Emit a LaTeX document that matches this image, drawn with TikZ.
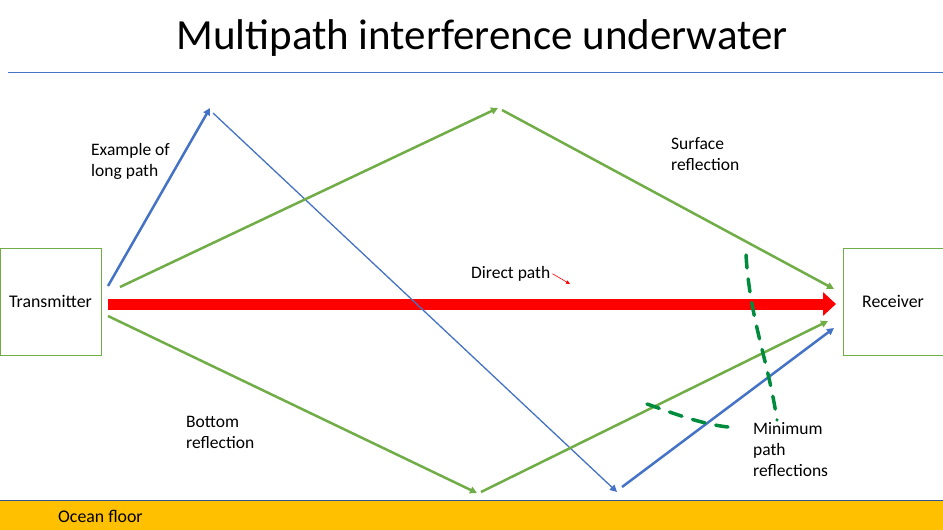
\documentclass[tikz,border=0pt]{standalone}
\usepackage{fontspec}
\setmainfont{Carlito}
\usetikzlibrary{arrows.meta}
\definecolor{cblue}{HTML}{4472C4}
\definecolor{cgreen}{HTML}{70AD47}
\definecolor{cred}{HTML}{FF0000}
\definecolor{corange}{HTML}{FFC000}
\definecolor{cdash}{RGB}{0,140,60}
\definecolor{cfloorline}{HTML}{2F5597}
\begin{document}
\begin{tikzpicture}[x=1pt,y=-1pt,
  devbox/.style={draw=cgreen, line width=1pt, fill=white, minimum width=101pt, minimum height=107pt, inner sep=0pt, font=\fontsize{17.8}{20}\selectfont},
  lbl/.style={font=\fontsize{17.5}{21}\selectfont, align=left, anchor=north west, inner sep=0pt},
  tip/.style={-{Triangle[length=7pt,width=7pt]}},
  greenray/.style={draw=cgreen, line width=2.5pt, tip},
  bluethick/.style={draw=cblue, line width=2.5pt, tip},
  bluethin/.style={draw=cblue, line width=1.3pt, tip},
  minpath/.style={draw=cdash, line width=3.5pt, dash pattern=on 13pt off 11pt, line cap=round}
  ]
\useasboundingbox (0,0) rectangle (943,530);

% title and rule
\node[font=\fontsize{43}{50}\selectfont, inner sep=0pt] (title) at (482,38) {Multipath interference underwater};
\coordinate (ruleL) at (8,72);
\coordinate (ruleR) at (943,72);
\draw[cblue, line width=1pt] (ruleL) -- (ruleR);

% ocean floor
\fill[corange] (0,500) rectangle (943,530);
\coordinate (floorL) at (0,500);
\coordinate (floorR) at (943,500);
\draw[cfloorline, line width=1pt] (floorL) -- (floorR);
\node[font=\fontsize{17.8}{20}\selectfont, anchor=west, inner sep=0pt] (floor) at (58,516) {Ocean floor};

% devices
\node[devbox] (tx) at (50.5,301.5) {Transmitter};
\node[devbox, minimum width=100pt] (rx) at (893,301.5) {Receiver};

% named points of the paths
\coordinate (bs) at (108,286);
\coordinate (bt1) at (210,108);
\coordinate (bs2) at (213,113);
\coordinate (bt2) at (617,492);
\coordinate (bs3) at (622,487);
\coordinate (bt3) at (834,328);

\coordinate (gs) at (120,287);
\coordinate (gt1) at (498,108);
\coordinate (gs2) at (502,110);
\coordinate (gt2) at (834,289);

\coordinate (hs) at (108,316);
\coordinate (ht1) at (477,493);
\coordinate (hs2) at (481,492);
\coordinate (ht2) at (828,321);

\coordinate (rs) at (108,304);
\coordinate (rt) at (836,304);

% direct path
\draw[cred, line width=11pt, -{Triangle[length=13pt,width=23pt]}] (rs) -- (rt);

% long path (blue)
\draw[bluethick] (bs) -- (bt1);
\draw[bluethin] (bs2) -- (bt2);
\draw[bluethick] (bs3) -- (bt3);

% surface reflection (green)
\draw[greenray] (gs) -- (gt1);
\draw[greenray] (gs2) -- (gt2);

% bottom reflection (green)
\draw[greenray] (hs) -- (ht1);
\draw[greenray] (hs2) -- (ht2);

% minimum path reflections (dashed curves)
\draw[minpath] (746,255) .. controls (750,320) and (768,360) .. (777,420);
\draw[minpath] (647,404) .. controls (670,412) and (700,424) .. (728,427);

% labels
\node[lbl] (lexample) at (91,143) {Example of\\long path};
\node[lbl] (lsurface) at (671,137) {Surface\\reflection};
\node[lbl] (lbottom) at (186,416) {Bottom\\reflection};
\node[lbl] (lminimum) at (753,422) {Minimum\\path\\reflections};
\node[lbl] (ldirect) at (471,266) {Direct path};
\coordinate (dpe) at (570,284);
\draw[cred, line width=0.6pt, -{Triangle[length=4pt,width=3.5pt]}] (ldirect.east) ++(2,0) -- (dpe);
\end{tikzpicture}
\end{document}
